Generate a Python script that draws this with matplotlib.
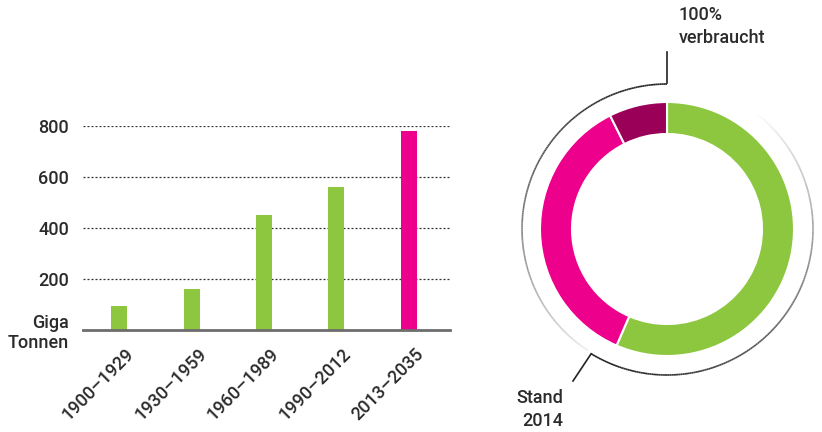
import numpy as np
import matplotlib.pyplot as plt
from matplotlib.collections import LineCollection

plt.rcParams['font.family'] = ['Roboto', 'DejaVu Sans']

# data
periods = ["1900–1929", "1930–1959", "1960–1989", "1990–2012", "2013–2035"]
emissions = [93, 161, 451, 561, 780]
yticks = [0, 200, 400, 600, 800]
ytick_labels = ["Giga\nTonnen", "200", "400", "600", "800"]

donut_labels = ["verbraucht bis 2014", "2013–2035", "Rest"]
donut_shares = [56.5, 36.1, 7.4]

GREEN = "#8DC63F"
PINK = "#EC008C"
MAROON = "#9B0058"
TXT = "#2b2b2b"
FS = 13

W, H = 822, 432
fig = plt.figure(figsize=(W / 100, H / 100), dpi=100)

# bar chart
ax = fig.add_axes([83 / W, (H - 330) / H, 367 / W, 204 / H])
colors = [GREEN] * (len(periods) - 1) + [PINK]
x = np.arange(len(periods))
ax.bar(x, emissions, width=0.22, color=colors, zorder=2)
ax.set_xlim(-0.5, 4.57)
ax.set_ylim(0, 800)
for v in yticks[1:]:
    ax.axhline(v, color="#333333", lw=0.9, ls=(0, (1.6, 1.6)), zorder=1)
ax.set_yticks(yticks)
ax.set_yticklabels(ytick_labels, fontsize=FS, color=TXT, fontweight="medium",
                   linespacing=1.15)
ax.tick_params(axis="y", length=0, pad=10)
ax.set_xticks(x + 0.08)
ax.set_xticklabels(periods, rotation=45, ha="right", va="top",
                   rotation_mode="anchor", fontsize=FS, color=TXT,
                   fontweight="medium")
ax.tick_params(axis="x", length=0, pad=11)
for s in ["top", "right", "left"]:
    ax.spines[s].set_visible(False)
ax.spines["bottom"].set_color("#6d6d6d")
ax.spines["bottom"].set_linewidth(2)
ax.spines["bottom"].set_zorder(3)

# donut
cx, cy, r = 667, 229, 127
ax2 = fig.add_axes([(cx - r) / W, (H - cy - r) / H, 2 * r / W, 2 * r / H])
ax2.pie(donut_shares, colors=[GREEN, PINK, MAROON], startangle=90,
        counterclock=False, radius=1,
        wedgeprops=dict(width=32 / r, edgecolor="white", linewidth=1.5))
ax2.set_xlim(-1, 1)
ax2.set_ylim(-1, 1)
ax2.axis("off")


def fade_arc(a0, a1, rad, c0, c1):
    t = np.linspace(np.radians(a0), np.radians(a1), 200)
    pts = np.column_stack([rad * np.cos(t), rad * np.sin(t)])
    segs = np.stack([pts[:-1], pts[1:]], axis=1)
    f = np.linspace(0, 1, len(segs))[:, None] ** 1.5
    cols = (1 - f) * np.array(c0) + f * np.array(c1)
    lc = LineCollection(segs, colors=cols, linewidths=1.2, clip_on=False)
    ax2.add_collection(lc)


dark = (0.13, 0.13, 0.13)
light = (0.93, 0.93, 0.93)
fade_arc(90, 237, 146 / r * 0.993, dark, light)
fade_arc(238.7, 412, 146 / r, dark, (0.99, 0.99, 0.99))

# leader lines
ax2.plot([0, 0], [146 / r, (229 - 52) / r], color="#222222", lw=1.2, clip_on=False)
ang = np.radians(238.7)
p0 = (146 / r * np.cos(ang), 146 / r * np.sin(ang))
ax2.plot([p0[0], (573 - cx) / r], [p0[1], (cy - 381) / r], color="#222222",
         lw=1.2, clip_on=False)

ax2.text((679 - cx) / r, (cy - 6) / r, "100%\nverbraucht", ha="left", va="top",
         fontsize=FS, color=TXT, fontweight="medium", linespacing=1.35)
ax2.text((563 - cx) / r, (cy - 389) / r, "Stand\n2014", ha="right", va="top",
         fontsize=FS, color=TXT, fontweight="medium", linespacing=1.35,
         multialignment="right")

fig.savefig("out.png", dpi=100)
